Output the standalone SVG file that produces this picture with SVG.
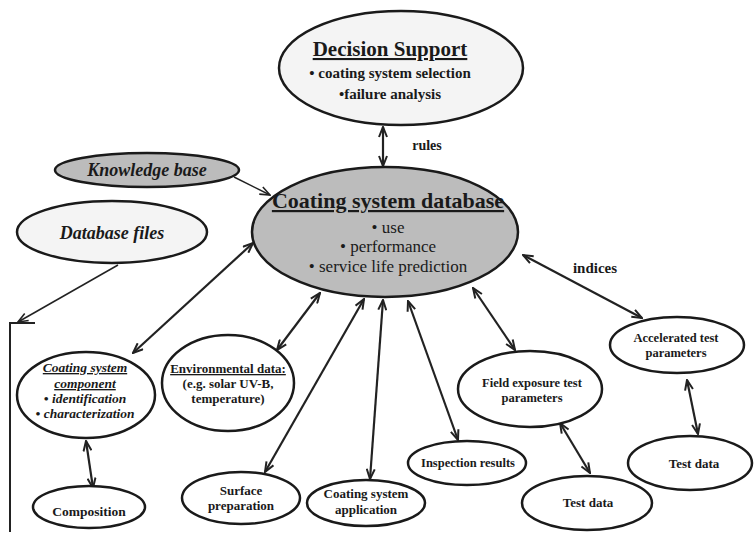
<svg xmlns="http://www.w3.org/2000/svg" width="754" height="540" viewBox="0 0 754 540">
  <defs>
    <marker id="ah" viewBox="0 0 12 10" refX="11" refY="5" markerWidth="12" markerHeight="10" markerUnits="userSpaceOnUse" orient="auto-start-reverse">
      <path d="M1,1 L11,5 L1,9" fill="none" stroke="#222" stroke-width="2" stroke-linejoin="miter"/>
    </marker>
    <marker id="ahThin" viewBox="0 0 12 10" refX="11" refY="5" markerWidth="12" markerHeight="10" markerUnits="userSpaceOnUse" orient="auto">
      <path d="M1,1 L11,5 L1,9" fill="none" stroke="#222" stroke-width="1.6"/>
    </marker>
  </defs>
  <style>
    ellipse { stroke: #1a1a1a; stroke-width: 2.5; fill: #ffffff; }
    .shade { fill: #bcbcbc; }
    .pale { fill: #f4f4f4; }
    text { font-family: "Liberation Serif", "Times New Roman", serif; fill: #1a1a1a; text-anchor: middle; font-weight: bold; }
    .ul { text-decoration: underline; }
    .it { font-style: italic; }
    .reg { font-weight: normal; }
    .conn line, .conn path { stroke: #222; fill: none; }
    .bi { stroke-width: 2.2; marker-start: url(#ah); marker-end: url(#ah); }
    .one { stroke-width: 1.5; marker-end: url(#ahThin); }
  </style>
  <rect width="754" height="540" fill="#ffffff"/>

  <!-- connectors -->
  <g id="connectors" class="conn">
    <line class="bi" x1="383" y1="127" x2="383" y2="166"/>
    <line class="one" x1="234" y1="177" x2="270" y2="195"/>
    <line class="one" x1="118" y1="265" x2="18" y2="322"/>
    <path d="M35,323 L10,323 L10,532" stroke-width="2"/>
    <line class="bi" x1="133" y1="353" x2="253" y2="243"/>
    <line class="bi" x1="86" y1="441" x2="93" y2="488"/>
    <line class="bi" x1="277" y1="350" x2="320" y2="293"/>
    <line class="bi" x1="265" y1="472" x2="364" y2="299"/>
    <line class="bi" x1="370" y1="479" x2="383" y2="300"/>
    <line class="bi" x1="458" y1="440" x2="408" y2="301"/>
    <line class="bi" x1="515" y1="350" x2="473" y2="288"/>
    <line class="bi" x1="523" y1="255" x2="642" y2="318"/>
    <line class="bi" x1="560" y1="423" x2="590" y2="473"/>
    <line class="bi" x1="687" y1="380" x2="698" y2="434"/>
    <text x="427" y="150" font-size="14">rules</text>
    <text x="595" y="273" font-size="15">indices</text>
  </g>

  <g id="decision-support">
    <ellipse class="pale" cx="401" cy="68" rx="122" ry="57"/>
    <text x="390" y="56" font-size="21" class="ul">Decision Support</text>
    <text x="390" y="78" font-size="15">• coating system selection</text>
    <text x="390" y="99" font-size="15">•failure analysis</text>
  </g>

  <g id="coating-system-database">
    <ellipse class="shade" cx="385" cy="232" rx="133" ry="65"/>
    <text x="388" y="208" font-size="22" class="ul">Coating system database</text>
    <text x="388" y="233" font-size="17" class="reg">• use</text>
    <text x="388" y="252" font-size="17" class="reg">• performance</text>
    <text x="388" y="272" font-size="17" class="reg">• service life prediction</text>
  </g>

  <g id="knowledge-base">
    <ellipse class="shade" cx="147" cy="170" rx="92" ry="17"/>
    <text x="147" y="176" font-size="18" class="it">Knowledge base</text>
  </g>

  <g id="database-files">
    <ellipse class="pale" cx="112" cy="232" rx="95" ry="31"/>
    <text x="112" y="239" font-size="18" class="it">Database files</text>
  </g>

  <g id="coating-system-component">
    <ellipse cx="86" cy="395" rx="69" ry="43"/>
    <text x="85" y="372" font-size="13.5" class="it ul">Coating system</text>
    <text x="85" y="388" font-size="13.5" class="it ul">component</text>
    <text x="85" y="403" font-size="13.5" class="it">• identification</text>
    <text x="85" y="418" font-size="13.5" class="it">• characterization</text>
  </g>

  <g id="composition">
    <ellipse cx="89" cy="507" rx="56" ry="21"/>
    <text x="89" y="516" font-size="13.5">Composition</text>
  </g>

  <g id="environmental-data">
    <ellipse cx="228" cy="383" rx="66" ry="48"/>
    <text x="228" y="373" font-size="13" class="ul">Environmental data:</text>
    <text x="228" y="388" font-size="13">(e.g. solar UV-B,</text>
    <text x="228" y="403" font-size="13">temperature)</text>
  </g>

  <g id="surface-preparation">
    <ellipse cx="241" cy="498" rx="59" ry="26"/>
    <text x="241" y="495" font-size="13">Surface</text>
    <text x="241" y="510" font-size="13">preparation</text>
  </g>

  <g id="coating-system-application">
    <ellipse cx="366" cy="503" rx="59" ry="23"/>
    <text x="366" y="498" font-size="13">Coating system</text>
    <text x="366" y="514" font-size="13">application</text>
  </g>

  <g id="inspection-results">
    <ellipse cx="467" cy="463" rx="59" ry="22"/>
    <text x="468" y="467" font-size="12.5">Inspection results</text>
  </g>

  <g id="field-exposure-test-parameters">
    <ellipse cx="530" cy="389" rx="72" ry="38"/>
    <text x="532" y="387" font-size="12.5">Field exposure test</text>
    <text x="532" y="402" font-size="12.5">parameters</text>
  </g>

  <g id="field-test-data">
    <ellipse cx="587" cy="503" rx="65" ry="27"/>
    <text x="588" y="507" font-size="13">Test data</text>
  </g>

  <g id="accelerated-test-parameters">
    <ellipse cx="677" cy="345" rx="67" ry="28"/>
    <text x="676" y="342" font-size="12.5">Accelerated test</text>
    <text x="676" y="357" font-size="12.5">parameters</text>
  </g>

  <g id="accelerated-test-data">
    <ellipse cx="690" cy="463" rx="62" ry="27"/>
    <text x="694" y="468" font-size="13">Test data</text>
  </g>
</svg>
